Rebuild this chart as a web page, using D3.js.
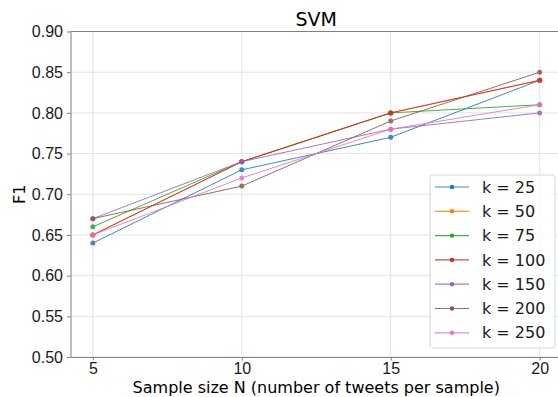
<!DOCTYPE html>
<html>
<head>
<meta charset="utf-8">
<script src="https://cdn.jsdelivr.net/npm/d3@7"></script>
<style>
  body { margin: 0; background: #fff; }
  svg { font-family: 'DejaVu Sans', sans-serif; }
  .grid line { stroke: #e3e3e3; stroke-width: 1; }
  .axis path, .axis line { stroke: #7f7f7f; }
  .axis text { fill: #1a1a1a; font-size: 16px; }
</style>
</head>
<body>
<div id="chart"></div>
<script>
const width = 558;
const height = 397;

// chart data
const sampleSizes = [5, 10, 15, 20];
const kLabels = ['k = 25', 'k = 50', 'k = 75', 'k = 100', 'k = 150', 'k = 200', 'k = 250'];
const k25 = [0.64, 0.73, 0.77, 0.84];
const k50 = [0.65, 0.74, 0.80, 0.84];
const k75 = [0.66, 0.74, 0.80, 0.81];
const k100 = [0.65, 0.74, 0.80, 0.84];
const k150 = [0.67, 0.74, 0.78, 0.80];
const k200 = [0.67, 0.71, 0.79, 0.85];
const k250 = [0.65, 0.72, 0.78, 0.81];
const yTicks = [0.50, 0.55, 0.60, 0.65, 0.70, 0.75, 0.80, 0.85, 0.90];

const seriesValues = [k25, k50, k75, k100, k150, k200, k250];
const colors = ['#1f77b4', '#ff7f0e', '#2ca02c', '#d62728', '#9467bd', '#8c564b', '#e377c2'];

const margin = { top: 31.5, right: -4, bottom: 40, left: 70.5 };

const svg = d3
  .select('#chart')
  .append('svg')
  .attr('width', width)
  .attr('height', height);

const x = d3
  .scaleLinear()
  .domain([4.25, 20.75])
  .range([margin.left, width - margin.right]);

const y = d3
  .scaleLinear()
  .domain([0.5, 0.9])
  .range([height - margin.bottom, margin.top]);

// grid
svg
  .append('g')
  .classed('grid', true)
  .selectAll('.vgrid')
  .data(sampleSizes)
  .enter()
  .append('line')
  .attr('x1', (d) => x(d))
  .attr('x2', (d) => x(d))
  .attr('y1', y(0.5))
  .attr('y2', y(0.9));

svg
  .select('.grid')
  .selectAll('.hgrid')
  .data(yTicks)
  .enter()
  .append('line')
  .attr('x1', x.range()[0])
  .attr('x2', x.range()[1])
  .attr('y1', (d) => y(d))
  .attr('y2', (d) => y(d));

// axes
svg
  .append('g')
  .classed('axis', true)
  .attr('transform', `translate(0,${y(0.5)})`)
  .call(d3.axisBottom(x).tickValues(sampleSizes).tickSize(3.5).tickPadding(2).tickSizeOuter(0));

svg
  .append('g')
  .classed('axis', true)
  .attr('transform', `translate(${x.range()[0]},0)`)
  .call(
    d3.axisLeft(y).tickValues(yTicks).tickFormat(d3.format('.2f')).tickSize(3.5).tickPadding(4).tickSizeOuter(0),
  );

// top spine
svg
  .append('line')
  .attr('x1', x.range()[0])
  .attr('x2', x.range()[1])
  .attr('y1', y(0.9))
  .attr('y2', y(0.9))
  .attr('stroke', '#7f7f7f');

// lines
const line = d3
  .line()
  .x((d, i) => x(sampleSizes[i]))
  .y((d) => y(d));

seriesValues.forEach((vals, i) => {
  const g = svg.append('g').attr('opacity', 0.85);
  g.append('path')
    .datum(vals)
    .attr('d', line)
    .attr('fill', 'none')
    .attr('stroke', colors[i])
    .attr('stroke-width', 1);
  g.selectAll('circle')
    .data(vals)
    .enter()
    .append('circle')
    .attr('cx', (d, j) => x(sampleSizes[j]))
    .attr('cy', (d) => y(d))
    .attr('r', 2.5)
    .attr('fill', colors[i]);
});

// title and labels
svg
  .append('text')
  .attr('x', (x.range()[0] + x.range()[1]) / 2)
  .attr('y', 26)
  .attr('text-anchor', 'middle')
  .style('font-size', '19px')
  .text('SVM');

svg
  .append('text')
  .attr('x', (x.range()[0] + x.range()[1]) / 2)
  .attr('y', 393)
  .attr('text-anchor', 'middle')
  .style('font-size', '16px')
  .text('Sample size N (number of tweets per sample)');

svg
  .append('text')
  .attr('transform', `translate(25,${(y(0.5) + y(0.9)) / 2}) rotate(-90)`)
  .attr('text-anchor', 'middle')
  .style('font-size', '16px')
  .text('F1');

// legend
const legend = svg.append('g').attr('transform', 'translate(430,175)');
legend
  .append('rect')
  .attr('width', 125)
  .attr('height', 173)
  .attr('rx', 3)
  .attr('fill', 'rgba(255,255,255,0.8)')
  .attr('stroke', '#d6d6d6');

const items = legend
  .selectAll('.item')
  .data(kLabels)
  .enter()
  .append('g')
  .attr('transform', (d, i) => `translate(0,${12 + i * 24.3})`);

items
  .append('line')
  .attr('x1', 5)
  .attr('x2', 39)
  .attr('stroke', (d, i) => colors[i])
  .attr('stroke-width', 1.2)
  .attr('opacity', 0.85);

items
  .append('circle')
  .attr('cx', 22)
  .attr('r', 2.2)
  .attr('fill', (d, i) => colors[i]);

items
  .append('text')
  .attr('x', 52)
  .attr('dy', '0.35em')
  .style('font-size', '16px')
  .attr('fill', '#1a1a1a')
  .text((d) => d);
</script>
</body>
</html>
